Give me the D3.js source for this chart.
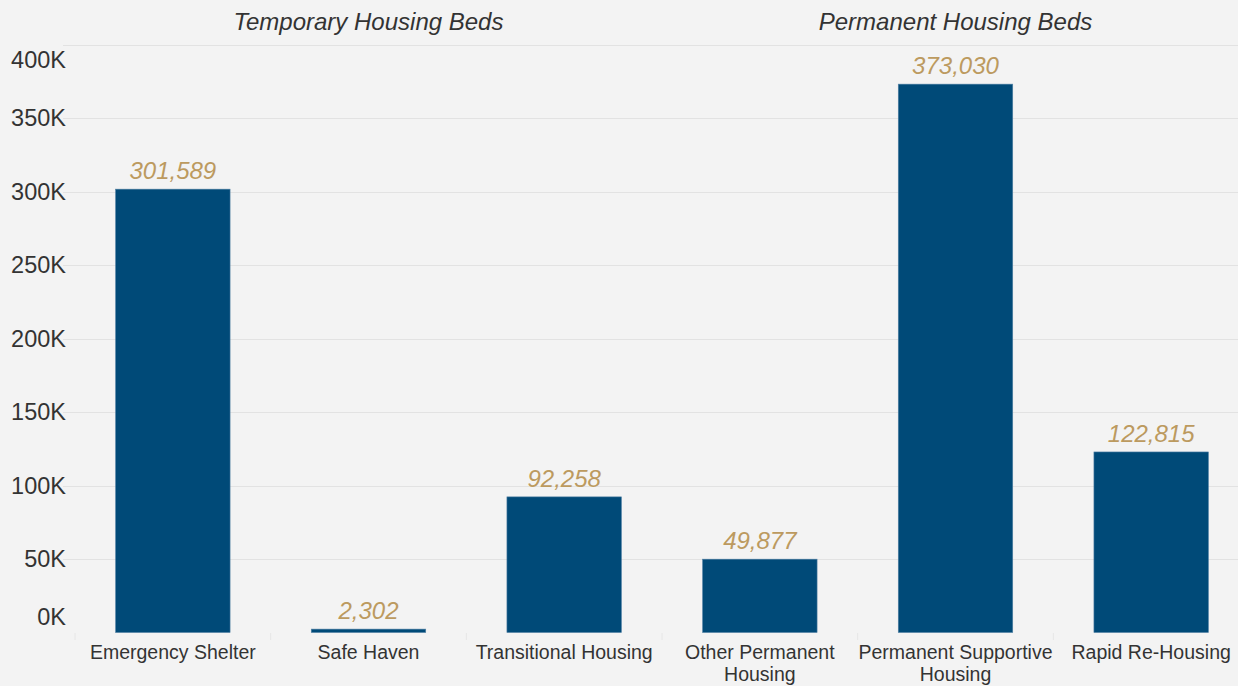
<!DOCTYPE html>
<html>
<head>
<meta charset="utf-8">
<script src="https://cdn.jsdelivr.net/npm/d3@7"></script>
<style>
  body { margin: 0; background: #f3f3f3; }
  svg { display: block; font-family: "Liberation Sans", Arial, sans-serif; }
</style>
</head>
<body>
<div id="chart"></div>
<script>
// data
var categories = ["Emergency Shelter", "Safe Haven", "Transitional Housing",
  "Other Permanent Housing", "Permanent Supportive Housing", "Rapid Re-Housing"];
var categoryLines = [["Emergency Shelter"], ["Safe Haven"], ["Transitional Housing"],
  ["Other Permanent", "Housing"], ["Permanent Supportive", "Housing"], ["Rapid Re-Housing"]];
var beds = [301589, 2302, 92258, 49877, 373030, 122815];
var groups = ["Temporary Housing Beds", "Permanent Housing Beds"];
var groupMembers = [[0, 1, 2], [3, 4, 5]];
var yTicks = [0, 50000, 100000, 150000, 200000, 250000, 300000, 350000, 400000];

var width = 1238, height = 686;
var svg = d3.select("#chart").append("svg")
  .attr("width", width)
  .attr("height", height);

svg.append("rect").attr("width", width).attr("height", height).attr("fill", "#f3f3f3");

var x = d3.scaleBand()
  .domain(d3.range(categories.length))
  .range([75, 1249])
  .paddingInner(0.415)
  .paddingOuter(0.2075);

var y = d3.scaleLinear()
  .domain([0, 400000])
  .range([632.5, 44.5]);

var fmtK = function(v) { return (v / 1000) + "K"; };
var fmtN = d3.format(",");

// gridlines
svg.append("g").selectAll("line")
  .data(yTicks.filter(d => d > 0))
  .enter().append("line")
  .attr("x1", 63).attr("x2", width)
  .attr("y1", d => Math.round(y(d)) + 0.5)
  .attr("y2", d => Math.round(y(d)) + 0.5)
  .attr("stroke", "#e2e2e2")
  .attr("stroke-width", 1);

// y labels (top and bottom ones are nudged inside the plot)
svg.append("g").selectAll("text")
  .data(yTicks)
  .enter().append("text")
  .attr("x", 66)
  .attr("y", function(d) {
    if (d === 400000) return y(d) + 15;
    if (d === 0) return y(d) - 16;
    return y(d);
  })
  .attr("dy", "0.35em")
  .attr("text-anchor", "end")
  .attr("fill", "#333")
  .attr("font-size", 23.5)
  .text(fmtK);

// column separators below the axis
var step = x.step();
svg.append("g").selectAll("line")
  .data(d3.range(categories.length))
  .enter().append("line")
  .attr("x1", d => x(d) - step * x.paddingInner() / 2)
  .attr("x2", d => x(d) - step * x.paddingInner() / 2)
  .attr("y1", 633).attr("y2", 640)
  .attr("stroke", "#e6e6e6");

// bars
svg.append("g").selectAll("rect")
  .data(beds)
  .enter().append("rect")
  .attr("x", (d, i) => x(i))
  .attr("y", d => y(d))
  .attr("width", x.bandwidth())
  .attr("height", d => y(0) - y(d))
  .attr("fill", "#004a78")
  .attr("stroke", "#4f7fa3")
  .attr("stroke-width", 0.6);

// value labels
svg.append("g").selectAll("text")
  .data(beds)
  .enter().append("text")
  .attr("x", (d, i) => x(i) + x.bandwidth() / 2)
  .attr("y", d => y(d) - 10)
  .attr("text-anchor", "middle")
  .attr("fill", "#bc9a5f")
  .attr("font-size", 24)
  .attr("font-style", "italic")
  .text(fmtN);

// category labels
var xl = svg.append("g").selectAll("text")
  .data(categoryLines)
  .enter().append("text")
  .attr("x", (d, i) => x(i) + x.bandwidth() / 2)
  .attr("y", 659)
  .attr("text-anchor", "middle")
  .attr("fill", "#333")
  .attr("font-size", 19.5);
xl.selectAll("tspan")
  .data(d => d)
  .enter().append("tspan")
  .attr("x", function() { return d3.select(this.parentNode).attr("x"); })
  .attr("dy", (d, i) => i === 0 ? 0 : 22)
  .text(d => d);

// group headers
svg.append("g").selectAll("text")
  .data(groups)
  .enter().append("text")
  .attr("x", function(d, i) {
    var m = groupMembers[i];
    return (x(m[0]) + x(m[m.length - 1]) + x.bandwidth()) / 2;
  })
  .attr("y", 30)
  .attr("text-anchor", "middle")
  .attr("fill", "#333")
  .attr("font-size", 24)
  .attr("font-style", "italic")
  .text(d => d);
</script>
</body>
</html>
